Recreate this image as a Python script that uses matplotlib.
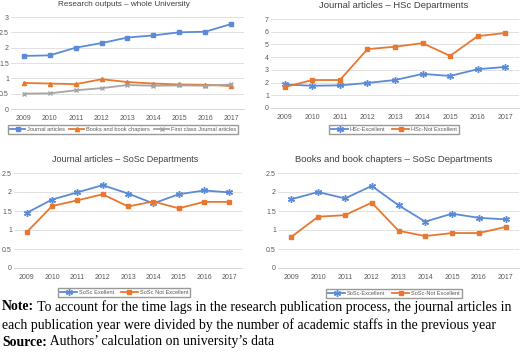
import numpy as np
import matplotlib
matplotlib.use("Agg")
from matplotlib import pyplot as plt

years = ["2009", "2010", "2011", "2012", "2013", "2014", "2015", "2016", "2017"]

# whole university
uni_journal = [1.73, 1.75, 2.0, 2.15, 2.33, 2.4, 2.5, 2.52, 2.77]
uni_books = [0.85, 0.83, 0.81, 0.97, 0.88, 0.83, 0.80, 0.79, 0.75]
uni_first = [0.50, 0.51, 0.61, 0.68, 0.78, 0.76, 0.77, 0.76, 0.80]

# HSc journal articles
hsc_exc = [1.85, 1.75, 1.78, 1.97, 2.2, 2.68, 2.52, 3.05, 3.23]
hsc_not = [1.65, 2.2, 2.2, 4.63, 4.82, 5.1, 4.1, 5.65, 5.9]

# SoSc journal articles
sosc_j_exc = [1.45, 1.8, 1.99, 2.18, 1.96, 1.7, 1.94, 2.04, 1.99]
sosc_j_not = [0.94, 1.63, 1.78, 1.94, 1.62, 1.75, 1.57, 1.74, 1.74]

# SoSc books and book chapters
sosc_b_exc = [1.81, 2.0, 1.83, 2.16, 1.65, 1.22, 1.43, 1.32, 1.28]
sosc_b_not = [0.82, 1.35, 1.39, 1.72, 0.98, 0.84, 0.92, 0.92, 1.08]

BLUE = "#5b8bd6"
ORANGE = "#e8782f"
GRAY = "#a5a5a5"
SANS = "Liberation Sans"

W, H = 520, 362
fig = plt.figure(figsize=(W / 100, H / 100), dpi=100)


def box(x0, y0, x1, y1):
    return [x0 / W, 1 - y1 / H, (x1 - x0) / W, (y1 - y0) / H]


def style(ax, ymax, step, title, tx, ty, tsize):
    x = np.arange(len(years))
    ax.set_xlim(-0.5, len(years) - 0.5)
    ax.set_ylim(0, ymax)
    ax.set_xticks(x)
    ax.set_xticklabels(years, family=SANS)
    ticks = np.arange(0, ymax + step / 2, step)
    ax.set_yticks(ticks)
    ax.set_yticklabels(["%g" % t for t in ticks], family=SANS)
    for s in ["top", "right", "left"]:
        ax.spines[s].set_visible(False)
    ax.spines["bottom"].set_color("#d0d0d0")
    ax.spines["bottom"].set_linewidth(0.6)
    ax.grid(True, axis="y", color="#dcdcdc", linewidth=0.6)
    ax.set_axisbelow(True)
    ax.tick_params(length=0, labelsize=5, colors="#595959", pad=4)
    ax.tick_params(axis="y", pad=1.5)
    fig.text(tx / W, 1 - ty / H, title, ha="center", va="center",
             fontsize=tsize, color="#404040", family=SANS)


def legend(ax, cx, cy, ncol, hl=3.0, cs=1.2):
    ax.legend(loc="center", bbox_to_anchor=(cx / W, 1 - cy / H),
              bbox_transform=fig.transFigure, ncol=ncol,
              prop={"family": SANS, "size": 4.1},
              frameon=True, fancybox=False, edgecolor="#808080",
              handlelength=hl, columnspacing=cs, borderpad=0.35,
              handletextpad=0.3, labelcolor="#595959")


x = np.arange(len(years))

# top left
ax1 = fig.add_axes(box(11, 17, 244, 109))
ax1.plot(x, uni_journal, color=BLUE, marker="s", ms=2.5, lw=1.3, label="Journal articles")
ax1.plot(x, uni_books, color=ORANGE, marker="^", ms=3, lw=1.3, label="Books and book chapters")
ax1.plot(x, uni_first, color=GRAY, marker="x", ms=2.5, lw=1.3, label="First class Journal articles")
style(ax1, 3, 0.5, "Research outputs \u2013 whole University", 124, 5, 5.9)
legend(ax1, 123, 129.5, 3, hl=2.6, cs=0.8)

# top right
ax2 = fig.add_axes(box(271, 19, 519, 108))
ax2.plot(x, hsc_exc, color=BLUE, marker=(6, 2, 0), ms=5, lw=1.3, label="HSc-Excellent")
ax2.plot(x, hsc_not, color=ORANGE, marker="s", ms=2.5, lw=1.3, label="HSc-Not Excellent")
style(ax2, 7, 1, "Journal articles \u2013 HSc Departments", 394, 6, 6.8)
legend(ax2, 394, 129.5, 2)

# bottom left
ax3 = fig.add_axes(box(14, 173, 242, 268))
ax3.plot(x, sosc_j_exc, color=BLUE, marker=(6, 2, 0), ms=5, lw=1.3, label="SoSc Exellent")
ax3.plot(x, sosc_j_not, color=ORANGE, marker="s", ms=2.5, lw=1.3, label="SoSc Not Excellent")
style(ax3, 2.5, 0.5, "Journal articles \u2013 SoSc Departments", 125, 159, 6.5)
legend(ax3, 124, 292.5, 2)

# bottom right
ax4 = fig.add_axes(box(278, 173, 519, 268))
ax4.plot(x, sosc_b_exc, color=BLUE, marker=(6, 2, 0), ms=5, lw=1.3, label="SoSc-Excellent")
ax4.plot(x, sosc_b_not, color=ORANGE, marker="s", ms=2.5, lw=1.3, label="SoSc-Not Excellent")
style(ax4, 2.5, 0.5, "Books and book chapters \u2013 SoSc Departments", 394, 159, 6.8)
legend(ax4, 394, 293.5, 2)

# note
serif = "Liberation Serif"
lines = [
    ("Note:", " To account for the time lags in the research publication process, the journal articles in"),
    ("", "each publication year were divided by the number of academic staffs in the previous year"),
    ("Source:", " Authors\u2019 calculation on university\u2019s data"),
]
ys = [307, 325, 342]
for (bold, rest), yy in zip(lines, ys):
    t = fig.text(2 / W, 1 - yy / H, bold, fontsize=9.95, fontweight="bold",
                 family=serif, va="center", ha="left")
    if bold:
        fig.canvas.draw()
        bb = t.get_window_extent()
        x0 = bb.x1 / W
    else:
        x0 = 2 / W
    fig.text(x0, 1 - yy / H, rest, fontsize=9.95, family=serif, va="center", ha="left")

fig.savefig("out.png", dpi=100)
